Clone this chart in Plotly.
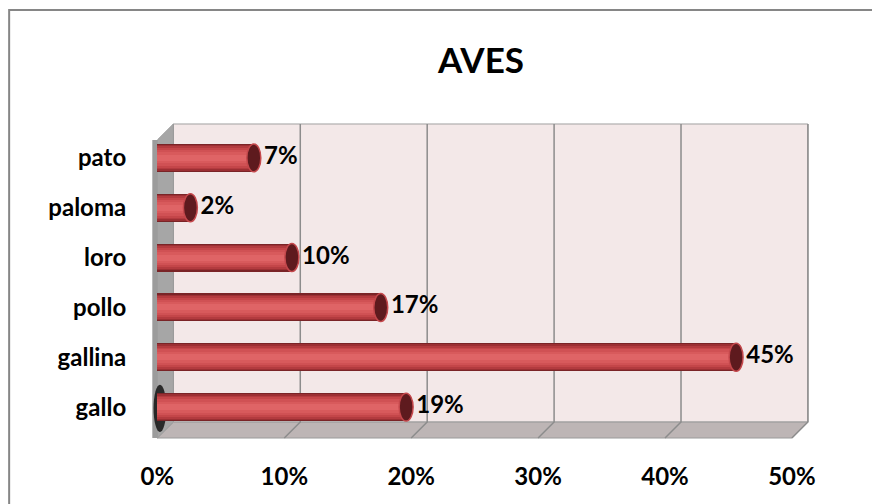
import plotly.graph_objects as go

# ── Data ──────────────────────────────────────────────────────────────────────
categories = ["gallo", "gallina", "pollo", "loro", "paloma", "pato"]
values = [0.19, 0.45, 0.17, 0.10, 0.02, 0.07]
tick_vals = [0, 0.1, 0.2, 0.3, 0.4, 0.5]
tick_text = ["0%", "10%", "20%", "30%", "40%", "50%"]

FONT = "Lato"
pos = list(range(len(categories)))

# 3D box geometry (axis units)
DX = 0.0126          # depth, x direction
DY = 0.32            # depth, y direction
FLOOR = -0.62        # front floor edge
TOP = 5.68           # back wall top
XMAX = 0.5
BAR_W = 0.56
CAP = 0.006

fig = go.Figure()

# ── Cylinders (layered bars to fake shading) ──────────────────────────────────
layers = [
    (1.00, "#7A2427"),
    (0.92, "#9C2F33"),
    (0.82, "#B33B3F"),
    (0.70, "#C44649"),
    (0.56, "#D05154"),
    (0.40, "#D85A5C"),
    (0.22, "#DF6466"),
]
for w, col in layers:
    fig.add_trace(go.Bar(
        y=pos, x=[v + CAP for v in values], orientation="h",
        width=BAR_W * w, marker=dict(color=col, line=dict(width=0)),
        hoverinfo="skip", showlegend=False,
    ))

# data labels
fig.add_trace(go.Scatter(
    y=pos, x=[v + 2 * CAP + 0.002 for v in values], mode="text",
    text=[f"{round(v * 100)}%" for v in values], textposition="middle right",
    texttemplate="<b>%{text}</b>",
    textfont=dict(family=FONT, size=24, color="#000000"),
    hoverinfo="skip", showlegend=False, cliponaxis=False,
))

shapes = []
# back wall
shapes.append(dict(type="rect", xref="x", yref="y", layer="below",
                   x0=DX, x1=XMAX + DX, y0=FLOOR + DY, y1=TOP,
                   fillcolor="#F3E8E8", line=dict(color="#A0A0A0", width=1)))
# floor
shapes.append(dict(type="path", xref="x", yref="y", layer="below",
                   path=f"M 0,{FLOOR} L {XMAX},{FLOOR} L {XMAX + DX},{FLOOR + DY} "
                        f"L {DX},{FLOOR + DY} Z",
                   fillcolor="#BDB5B5", line=dict(color="#9A9A9A", width=1)))
# left wall
shapes.append(dict(type="path", xref="x", yref="y", layer="below",
                   path=f"M 0,{FLOOR} L 0,{TOP - DY} L {DX},{TOP} L {DX},{FLOOR + DY} Z",
                   fillcolor="#A6A6A6", line=dict(color="#9A9A9A", width=1)))
shapes.append(dict(type="rect", xref="x", yref="y", layer="below",
                   x0=-0.004, x1=0, y0=FLOOR, y1=TOP - DY,
                   fillcolor="#9C9C9C", line=dict(width=0)))
# gridlines
for t in tick_vals[1:]:
    shapes.append(dict(type="path", xref="x", yref="y", layer="below",
                       path=f"M {t + DX},{TOP} L {t + DX},{FLOOR + DY} L {t},{FLOOR}",
                       line=dict(color="#8C8C8C", width=1.5)))
# shadow at the base of the first bar
shapes.append(dict(type="circle", xref="x", yref="y", layer="below",
                   x0=-0.003, x1=0.007, y0=pos[0] - 0.5, y1=pos[0] + 0.45,
                   fillcolor="rgba(0,0,0,0.75)", line=dict(width=0)))
# cylinder end caps
for p, v in zip(pos, values):
    shapes.append(dict(type="circle", xref="x", yref="y", layer="above",
                       x0=v + CAP - 0.0055, x1=v + CAP + 0.0055,
                       y0=p - BAR_W / 2, y1=p + BAR_W / 2,
                       fillcolor="#5E1A1E", line=dict(color="#C4484C", width=1.5)))
# outer chart border
shapes.append(dict(type="rect", xref="paper", yref="paper",
                   x0=-0.176, x1=1.2, y0=-0.35, y1=1.35,
                   line=dict(color="#868686", width=2), fillcolor="rgba(0,0,0,0)"))

fig.update_layout(
    width=872, height=504,
    margin=dict(l=132, r=42, t=122, b=62),
    paper_bgcolor="white", plot_bgcolor="rgba(0,0,0,0)",
    barmode="overlay", bargap=0,
    shapes=shapes,
    title=dict(text="<b>AVES</b>", x=0.5, xref="paper", xanchor="center",
               y=0.88, yref="container", yanchor="middle",
               font=dict(family=FONT, size=35, color="#000000")),
    xaxis=dict(range=[-0.02, 0.53], tickvals=tick_vals,
               ticktext=[f"<b>{t}</b>" for t in tick_text],
               showgrid=False, zeroline=False, showline=False, automargin=False,
               ticks="outside", ticklen=13, tickcolor="rgba(0,0,0,0)",
               tickfont=dict(family=FONT, size=24, color="#000000")),
    yaxis=dict(range=[-0.7, 5.72], tickvals=pos,
               ticktext=[f"<b>{c}</b>" for c in categories],
               showgrid=False, zeroline=False, showline=False, automargin=False,
               ticks="outside", ticklen=0, tickcolor="rgba(0,0,0,0)",
               tickfont=dict(family=FONT, size=24, color="#000000")),
)

fig.write_html("out.html", config={"displayModeBar": False},
               post_script="document.body.style.margin='0';")
